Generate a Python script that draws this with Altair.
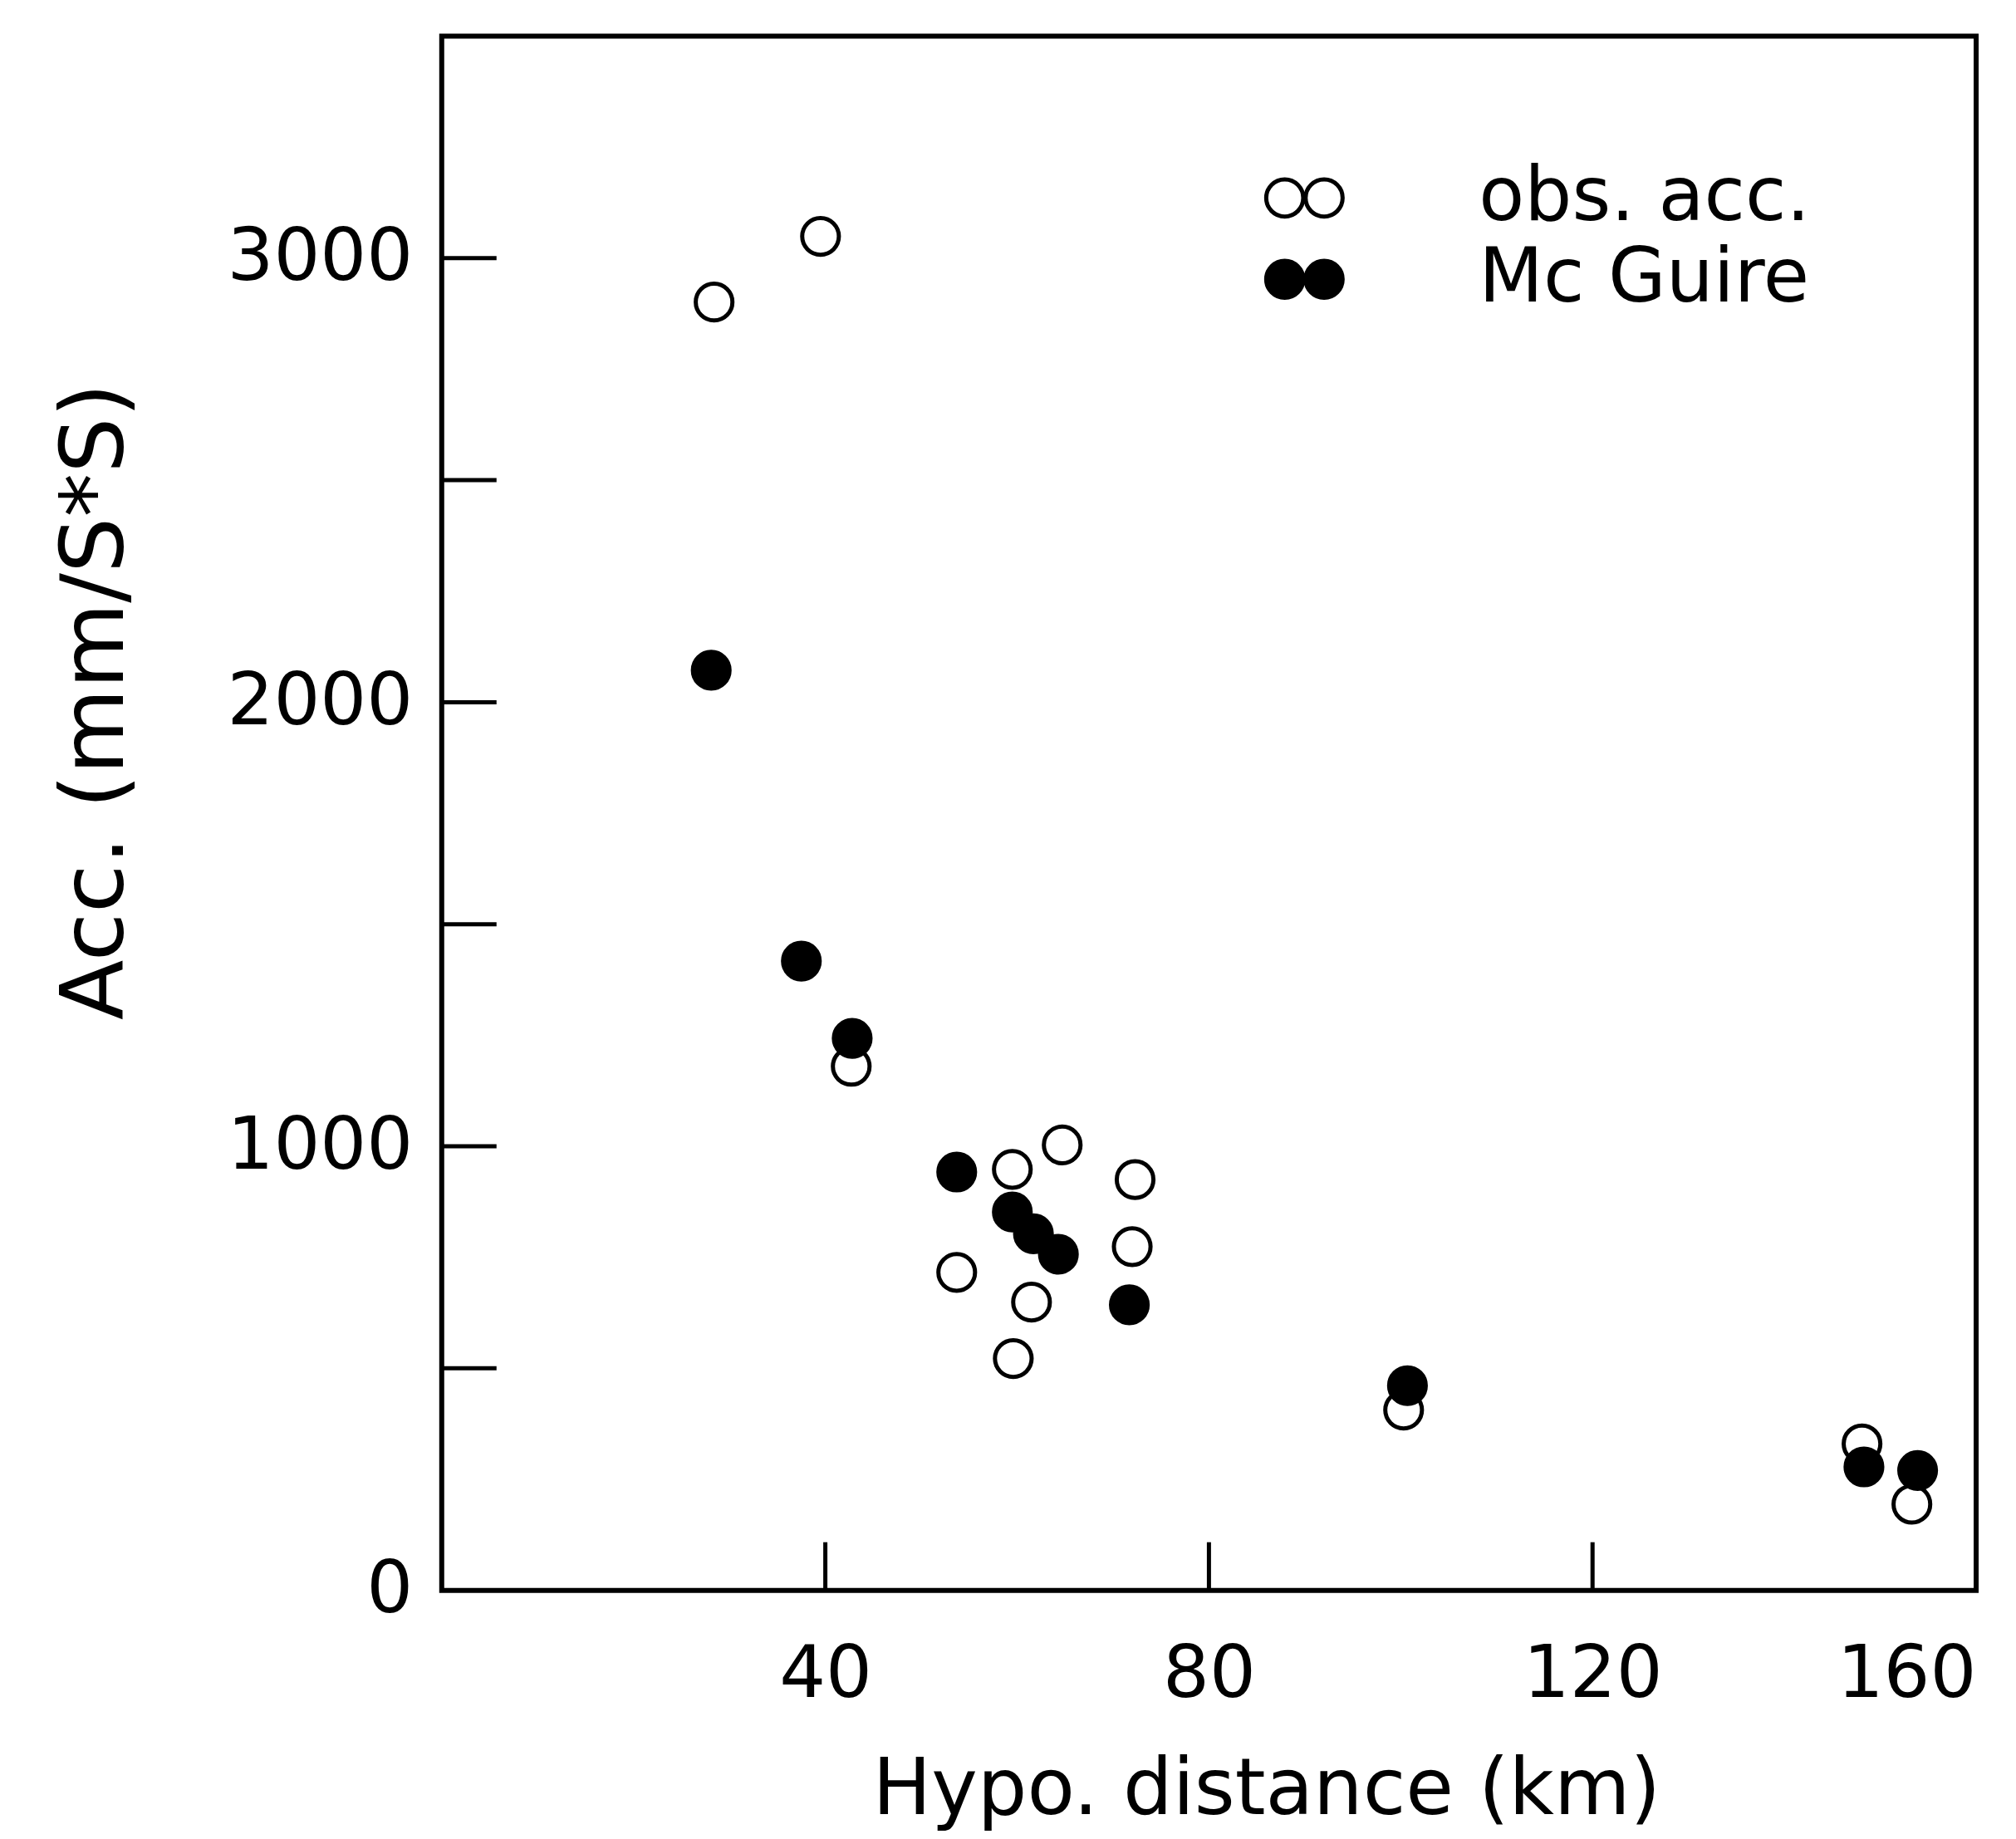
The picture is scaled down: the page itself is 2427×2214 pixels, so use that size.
import altair as alt
import pandas as pd

# ---- data ----
obs_dist = [28.4, 39.5, 42.7, 53.7, 59.5, 64.7, 61.5, 59.6, 72.3, 72.0, 100.3, 148.1, 153.3]
obs_acc = [2901, 3049, 1180, 716, 948, 1003, 649, 522, 925, 774, 406, 330, 194]
mcg_dist = [28.1, 37.5, 42.8, 53.7, 59.5, 61.7, 64.3, 71.7, 100.7, 148.3, 153.9]
mcg_acc = [2072, 1417, 1243, 942, 852, 803, 757, 643, 461, 278, 270]
series = ["obs. acc.", "Mc Guire"]
x_labels = [40, 80, 120, 160]
y_labels = [0, 1000, 2000, 3000]
x_ticks = [40, 80, 120]
y_ticks = [500, 1000, 1500, 2000, 2500, 3000]

FONT = "DejaVu Sans"
W, H = 1848, 1872

df = pd.DataFrame({
    "dist": obs_dist + mcg_dist,
    "acc": obs_acc + mcg_acc,
    "series": [series[0]] * len(obs_dist) + [series[1]] * len(mcg_dist),
})
xt = pd.DataFrame({"dist": x_ticks})
yt = pd.DataFrame({"acc": y_ticks})

xscale = alt.Scale(domain=[0, 160], nice=False, zero=False)
yscale = alt.Scale(domain=[0, 3500], nice=False, zero=False)
xaxis = alt.Axis(values=x_labels, format="d", title="Hypo. distance (km)", ticks=False,
                 domain=False, grid=False, labelFontSize=88, labelFont=FONT,
                 labelPadding=58, labelFlush=True, labelColor="black", labelLimit=0,
                 titleFont=FONT, titleFontSize=94, titleFontWeight="normal",
                 titleColor="black", titleX=993, titleY=195)
yaxis = alt.Axis(values=y_labels, format="d", title="Acc. (mm/S*S)", ticks=False,
                 domain=False, grid=False, labelFontSize=88, labelFont=FONT,
                 labelPadding=35, labelColor="black", labelLimit=0,
                 titleFont=FONT, titleFontSize=106, titleFontWeight="normal",
                 titleColor="black", titleX=-416, titleY=801,
                 titleBaseline="middle", titleAlign="center")

two_circles = ("M -0.03,0 A 0.47,0.47 0 1,1 -0.97,0 A 0.47,0.47 0 1,1 -0.03,0 Z "
               "M 0.97,0 A 0.47,0.47 0 1,1 0.03,0 A 0.47,0.47 0 1,1 0.97,0 Z")

points = alt.Chart(df).mark_point(
    filled=True, shape="circle", size=1950, stroke="black", strokeWidth=5, opacity=1
).encode(
    x=alt.X("dist:Q", scale=xscale, axis=xaxis),
    y=alt.Y("acc:Q", scale=yscale, axis=yaxis),
    fill=alt.Fill("series:N", scale=alt.Scale(domain=series, range=["white", "black"]),
                  legend=alt.Legend(title=None, orient="none", legendX=989, legendY=145,
                                    symbolType=two_circles, symbolSize=9000,
                                    symbolStrokeColor="black", symbolStrokeWidth=5,
                                    labelFontSize=90, labelFont=FONT, labelColor="black",
                                    labelOffset=160, labelLimit=1000, rowPadding=3,
                                    padding=0)),
)

xtick_rules = alt.Chart(xt).mark_rule(color="black", strokeWidth=5).encode(
    x=alt.X("dist:Q", scale=xscale, axis=xaxis),
    y=alt.value(H),
    y2=alt.value(H - 58),
)
ytick_rules = alt.Chart(yt).mark_rule(color="black", strokeWidth=5).encode(
    y=alt.Y("acc:Q", scale=yscale, axis=yaxis),
    x=alt.value(0),
    x2=alt.value(66),
)

chart = alt.layer(xtick_rules, ytick_rules, points).properties(
    width=W, height=H,
    autosize=alt.AutoSizeParams(type="none"),
    padding={"left": 524, "top": 35, "right": 40, "bottom": 290},
    background="white",
).configure_view(stroke="black", strokeWidth=6)

chart.save("out.html", embed_options={"renderer": "svg", "actions": False})
